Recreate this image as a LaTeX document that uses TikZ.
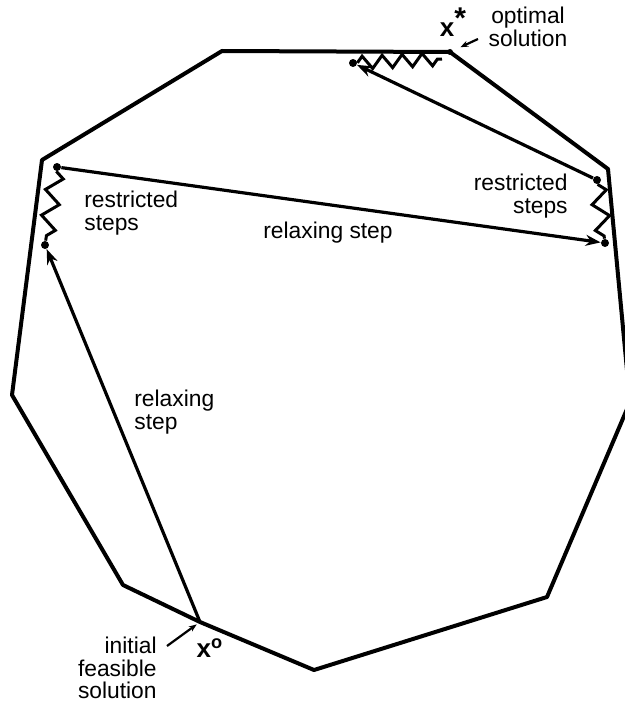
\documentclass[tikz,border=0pt]{standalone}
\usepackage{fontspec}
\setmainfont{Liberation Sans}
\usetikzlibrary{arrows.meta,decorations.pathmorphing}

\begin{document}
\begin{tikzpicture}[x=0.5pt,y=-0.5pt,
    region/.style={line width=2pt,line join=round},
    relax/.style={->,line width=1.6pt},
    restr/.style={line width=1.5pt,decorate,decoration={zigzag,segment length=13pt,amplitude=4pt}},
    pt/.style={circle,fill,inner sep=0pt,minimum size=4pt},
    ptr/.style={-{Stealth[length=4pt,width=3pt]},line width=1.1pt},
    lbl/.style={font=\fontsize{11.4}{11.3}\selectfont,inner sep=0pt},
    sol/.style={inner sep=0pt,font=\fontsize{13}{13}\selectfont\bfseries},
    >={Stealth[length=7.5pt,width=5.5pt]}]
  \clip (0,0) rectangle (625,706);
  % feasible region
  \draw[region] (222,51) -- (450,52) -- (608,169) -- (630,402) -- (547,597)
    -- (314,670) -- (200,622) -- (123,585) -- (12,395) -- (42,160) -- cycle;
  % solutions and ends of the steps
  \coordinate (x0) at (200,622);
  \node[pt,minimum size=3pt] (xs) at (450,52) {};
  \node[pt] (a1) at (45,245) {};
  \node[pt] (a2) at (57,167) {};
  \node[pt] (b1) at (605,243) {};
  \node[pt] (b2) at (597,180) {};
  \node[pt] (c1) at (353,63) {};
  \coordinate (c2) at (442,59);
  % steps
  \draw[relax] (x0) -- (a1);
  \draw[restr] (a2) -- (a1);
  \draw[relax] (a2) -- (b1);
  \draw[restr] (b2) -- (b1);
  \draw[relax] (b2) -- (c1);
  \draw[restr,decoration={segment length=10pt,amplitude=3.2pt}] (c1) -- (c2);
  % labels
  \node[lbl,anchor=west,align=left] (rs1) at (84,213) {restricted\\steps};
  \node[lbl] (rx1) at (328,233) {relaxing step};
  \node[lbl,anchor=east,align=right] (rs2) at (568,196) {restricted\\steps};
  \node[lbl,anchor=west,align=left] (rx2) at (134,412) {relaxing\\step};
  \node[lbl,align=center] (opt) at (528,27) {optimal\\solution};
  \node[sol] (xsl) at (453,22) {x\raisebox{4pt}{\fontsize{15}{15}\selectfont*}};
  \node[lbl,anchor=east,align=right] (init) at (157,668) {initial\\feasible\\solution};
  \node[sol] (x0l) at (210,648) {x\textsuperscript{o}};
  \coordinate (optp) at (478,39);
  \coordinate (initp) at (167,646);
  \draw[ptr,shorten >=4pt] (optp) -- (xs);
  \draw[ptr,shorten >=2pt] (initp) -- (x0);
\end{tikzpicture}
\end{document}
